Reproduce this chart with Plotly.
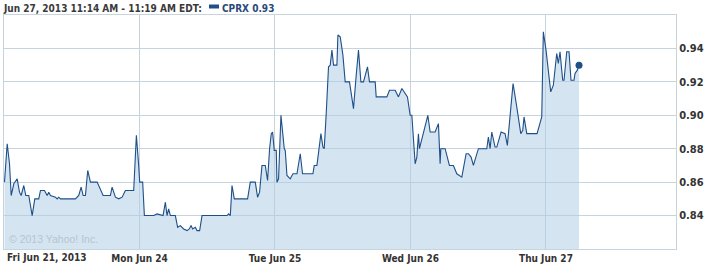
import plotly.graph_objects as go

# Session position in trading days from Fri Jun 21 open (0 = Fri open, 1 = Mon open, ...)
px_x = [4, 6.7, 9, 10.7, 13.3, 16.7, 19, 20.7, 23.3, 25.3, 28.3, 31.7, 34.3, 38.3, 40, 44, 46.7, 48.3, 50,
        55, 56.7, 58.3, 60, 75, 78.3, 80.7, 82.7, 85, 87.3, 90, 96.7, 102.7, 110, 111.7, 115, 118.3, 121.7,
        125, 133.3, 136, 138.3,
        139.3, 142.3, 144, 153.3, 156.7, 162.7, 165, 166.7, 168.3, 170, 175, 177.3, 180, 183.3, 186.7, 189,
        190.7, 192.3, 195, 196.7, 199.3, 201.7, 226.7, 228.3, 230, 231.7, 234, 247.3, 250, 255, 257.3, 259.3,
        261.7, 265, 267.3, 269.3, 271, 272.3, 274,
        276, 276.7, 278.3, 280.7, 284, 285, 286.7, 290, 292.7, 296.7, 300, 302.3, 312.7, 314, 316.7, 318.3,
        320.7, 322.7, 324, 326, 328.3, 330, 331.7, 333.3, 336.7, 337.7, 340, 342.7, 345, 349.3, 353.3, 356,
        358.3, 360.7, 363.3, 367.3, 369.3, 375, 376, 386.7, 389.3, 395, 398.3, 401.7, 407.3,
        410, 411.7, 415, 416.7, 418.3, 419.3, 427.7, 430, 435, 438.3, 440, 440.7, 445, 449.3, 453.3, 456.7,
        461.7, 466, 468.3, 471, 473.3, 478.3, 486.7, 488.3, 490, 491.7, 495, 496.7, 501, 505, 507.3, 513,
        516.7, 520.7, 522.7, 524, 526.7, 537, 541.7,
        543.3, 546, 548.3, 550.7, 553.3, 555, 556.7, 558.3, 560, 561.7, 562.7, 564, 566.7, 569, 571, 574,
        575, 577.3, 579]
session_days = [round((v - 3.5) / 135.6, 4) for v in px_x]

price = [0.860, 0.883, 0.871, 0.852, 0.859, 0.862, 0.854, 0.852, 0.858, 0.852, 0.852, 0.840, 0.850, 0.850,
         0.855, 0.855, 0.852, 0.854, 0.852, 0.851, 0.850, 0.851, 0.850, 0.850, 0.852, 0.857, 0.852, 0.852,
         0.867, 0.860, 0.860, 0.852, 0.852, 0.857, 0.851, 0.850, 0.851, 0.855, 0.855, 0.888, 0.870,
         0.860, 0.860, 0.840, 0.840, 0.841, 0.840, 0.848, 0.840, 0.844, 0.840, 0.840, 0.833, 0.834, 0.832,
         0.831, 0.832, 0.834, 0.832, 0.833, 0.831, 0.831, 0.840, 0.840, 0.841, 0.840, 0.858, 0.850, 0.850,
         0.860, 0.860, 0.851, 0.854, 0.870, 0.870, 0.861, 0.880, 0.889, 0.890, 0.879,
         0.879, 0.860, 0.862, 0.900, 0.880, 0.879, 0.864, 0.862, 0.865, 0.865, 0.877, 0.865, 0.865, 0.870,
         0.870, 0.879, 0.889, 0.881, 0.880, 0.901, 0.929, 0.930, 0.939, 0.930, 0.930, 0.948, 0.947, 0.936,
         0.920, 0.920, 0.904, 0.924, 0.939, 0.920, 0.920, 0.929, 0.920, 0.920, 0.911, 0.911, 0.915, 0.915,
         0.911, 0.916, 0.911,
         0.900, 0.900, 0.871, 0.875, 0.889, 0.880, 0.900, 0.890, 0.890, 0.895, 0.871, 0.880, 0.880, 0.870,
         0.870, 0.865, 0.863, 0.877, 0.877, 0.875, 0.870, 0.880, 0.880, 0.887, 0.880, 0.890, 0.881, 0.881,
         0.890, 0.889, 0.882, 0.919, 0.905, 0.889, 0.891, 0.899, 0.889, 0.889, 0.899,
         0.950, 0.939, 0.927, 0.914, 0.918, 0.926, 0.937, 0.931, 0.938, 0.927, 0.921, 0.921, 0.938, 0.938,
         0.921, 0.921, 0.925, 0.927, 0.930]

day_ticks = [1, 2, 3, 4]
day_labels = ["Mon Jun 24", "Tue Jun 25", "Wed Jun 26", "Thu Jun 27"]
first_label = "Fri Jun 21, 2013"
y_ticks = [0.84, 0.86, 0.88, 0.90, 0.92, 0.94]
y_labels = ["0.84", "0.86", "0.88", "0.90", "0.92", "0.94"]
title_text = "Jun 27, 2013 11:14 AM - 11:19 AM EDT:"
legend_text = "CPRX 0.93"

LINE = "#1f4f88"
FILL = "rgba(170,204,228,0.50)"
GRID = "#c6d4de"
TXT = "#333333"
FONT = "DejaVu Sans Condensed, Liberation Sans, sans-serif"

W, H = 705, 265
ML, MR, MT, MB = 4, 29, 15, 16
PW, PH = W - ML - MR, H - MT - MB

def px2paper_x(p):
    return (p - ML) / PW

def px2paper_y(p):
    return 1 + (MT - p) / PH

fig = go.Figure()
fig.add_trace(go.Scatter(x=session_days, y=price, mode="lines", fill="tozeroy",
                         fillcolor=FILL, line=dict(color=LINE, width=1.1), hoverinfo="skip"))
fig.add_trace(go.Scatter(x=[session_days[-1]], y=[price[-1]], mode="markers",
                         marker=dict(color=LINE, size=7), hoverinfo="skip"))

fig.update_layout(
    width=W, height=H, showlegend=False,
    margin=dict(l=ML, r=MR, t=MT, b=MB),
    paper_bgcolor="white", plot_bgcolor="white",
    font=dict(family=FONT, size=11, color=TXT),
    xaxis=dict(range=[0, 4.96], tickvals=day_ticks, ticktext=day_labels, showgrid=True,
               gridcolor=GRID, gridwidth=1, showline=True, linecolor=GRID, mirror=True,
               ticks="", zeroline=False, automargin=False,
               tickfont=dict(family=FONT, size=10, color=TXT, weight="bold")),
    yaxis=dict(range=[0.82, 0.96], side="right", tickvals=y_ticks, ticktext=y_labels,
               showgrid=True, gridcolor=GRID, gridwidth=1, showline=True, linecolor=GRID,
               mirror=True, ticks="", zeroline=False, automargin=False,
               tickfont=dict(family=FONT, size=11, color=TXT, weight="bold")),
)

fig.add_annotation(x=0, y=0, xref="x", yref="paper", text=first_label, showarrow=False,
                   xanchor="left", yanchor="top", xshift=1, yshift=-1,
                   font=dict(family=FONT, size=10, color=TXT, weight="bold"))
fig.add_annotation(x=0, y=1, xref="paper", yref="paper", text=title_text, showarrow=False,
                   xanchor="left", yanchor="bottom", xshift=-3, yshift=-1,
                   font=dict(family=FONT, size=10, color="#3a3a3a", weight="bold"))
fig.add_annotation(x=0, y=1, xref="paper", yref="paper", text=legend_text, showarrow=False,
                   xanchor="left", yanchor="bottom", xshift=216, yshift=-1,
                   font=dict(family=FONT, size=10, color="#2a4a78", weight="bold"))
fig.add_shape(type="rect", xref="paper", yref="paper",
              x0=px2paper_x(209), x1=px2paper_x(219), y0=px2paper_y(8.5), y1=px2paper_y(4.5),
              fillcolor=LINE, line=dict(width=0))
fig.add_annotation(x=0, y=0, xref="paper", yref="paper", text="© 2013 Yahoo! Inc.", showarrow=False,
                   xanchor="left", yanchor="bottom", xshift=3, yshift=2,
                   font=dict(family="Liberation Sans, sans-serif", size=10.5, color="#b8c4cd"))

fig.write_html("out.html")
